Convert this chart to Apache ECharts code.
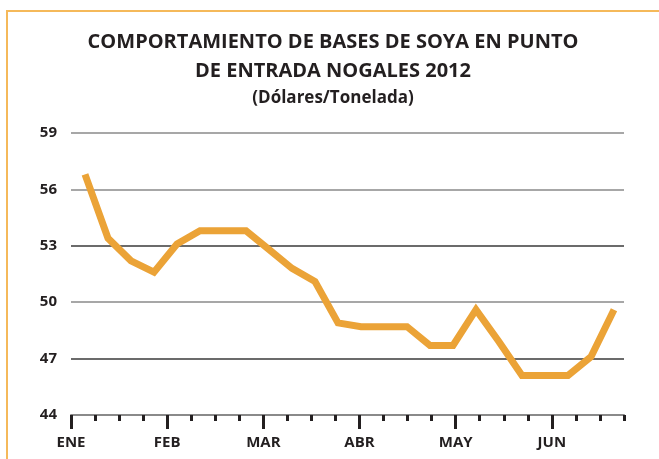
<!DOCTYPE html>
<html>
<head>
<meta charset="utf-8">
<script src="https://cdn.jsdelivr.net/npm/echarts@6/dist/echarts.min.js"></script>
<style>
  html, body { margin: 0; padding: 0; background: #fff; }
  #chart { width: 659px; height: 459px; }
</style>
</head>
<body>
<div id="chart"></div>
<script>
// meses del eje x (4 semanas por mes)
const months = ['ENE', 'FEB', 'MAR', 'ABR', 'MAY', 'JUN']
const weeksPerMonth = 4
const tickCount = 24

// bases de soya, dólares/tonelada
const basePrices = [
  56.8, 53.4, 52.2, 51.6, 53.1, 53.8, 53.8, 53.8, 52.8, 51.8, 51.1, 48.9,
  48.7, 48.7, 48.7, 47.7, 47.7, 49.6, 47.9, 46.1, 46.1, 46.1, 47.1, 49.6
]

const yTicks = [44, 47, 50, 53, 56, 59]

// categorías para las marcas del eje (semanas)
const tickCats = []
for (let i = 0; i < tickCount; i++) {
  tickCats.push(i % weeksPerMonth === 0 ? months[i / weeksPerMonth] || '' : '')
}

const chart = echarts.init(document.getElementById('chart'))

const labelFont = { fontFamily: 'Open Sans', fontWeight: 'bold', fontSize: 15, color: '#231f20' }

chart.setOption({
  animation: false,
  grid: { left: 71, right: 35, top: 133, bottom: 44 },
  graphic: [
    {
      type: 'polyline',
      shape: { points: [[7, 470], [7, 11], [670, 11]] },
      style: { stroke: '#f5b95a', lineWidth: 2, fill: null }
    },
    {
      type: 'text', x: 333, y: 42,
      style: {
        text: 'COMPORTAMIENTO DE BASES DE SOYA EN PUNTO',
        fontFamily: 'Open Sans', fontWeight: 'bold', fontSize: 20,
        fill: '#231f20', align: 'center', verticalAlign: 'middle'
      }
    },
    {
      type: 'text', x: 333, y: 71,
      style: {
        text: 'DE ENTRADA NOGALES 2012',
        fontFamily: 'Open Sans', fontWeight: 'bold', fontSize: 20,
        fill: '#231f20', align: 'center', verticalAlign: 'middle'
      }
    },
    {
      type: 'text', x: 333, y: 98,
      style: {
        text: '(Dólares/Tonelada)',
        fontFamily: 'Open Sans', fontWeight: 'bold', fontSize: 17,
        fill: '#231f20', align: 'center', verticalAlign: 'middle'
      }
    }
  ],
  xAxis: [
    {
      // marcas semanales cortas
      type: 'category',
      position: 'bottom',
      data: tickCats,
      boundaryGap: false,
      axisLine: { show: true, lineStyle: { color: '#8a8a8a', width: 2 } },
      axisTick: { show: true, interval: 0, length: 6, lineStyle: { color: '#231f20', width: 3 } },
      axisLabel: { show: false },
      splitLine: { show: false }
    },
    {
      // marcas mensuales largas + etiquetas
      type: 'category',
      position: 'bottom',
      data: tickCats,
      boundaryGap: false,
      axisLine: { show: false },
      axisTick: {
        show: true, length: 14,
        interval: (i) => i % weeksPerMonth === 0,
        lineStyle: { color: '#231f20', width: 3 }
      },
      axisLabel: {
        show: true, margin: 20,
        interval: (i) => i % weeksPerMonth === 0,
        ...labelFont
      },
      splitLine: { show: false }
    },
    {
      // eje de datos (oculto)
      type: 'value',
      position: 'bottom',
      min: -0.609,
      max: 23.435,
      show: false
    }
  ],
  yAxis: {
    type: 'value',
    min: 44,
    max: 59,
    interval: 3,
    axisLine: { show: false },
    axisTick: { show: false },
    axisLabel: { margin: 14, ...labelFont },
    splitLine: {
      show: true,
      lineStyle: {
        color: ['#8a8a8a', '#3a3a3a', '#8a8a8a', '#3a3a3a', '#8a8a8a', '#8a8a8a'],
        width: 1.5
      }
    }
  },
  series: [
    {
      type: 'line',
      xAxisIndex: 2,
      data: basePrices.map((v, i) => [i, v]),
      symbol: 'none',
      lineStyle: { color: '#eba337', width: 7, join: 'miter', cap: 'butt' },
      z: 5
    }
  ]
})
</script>
</body>
</html>
